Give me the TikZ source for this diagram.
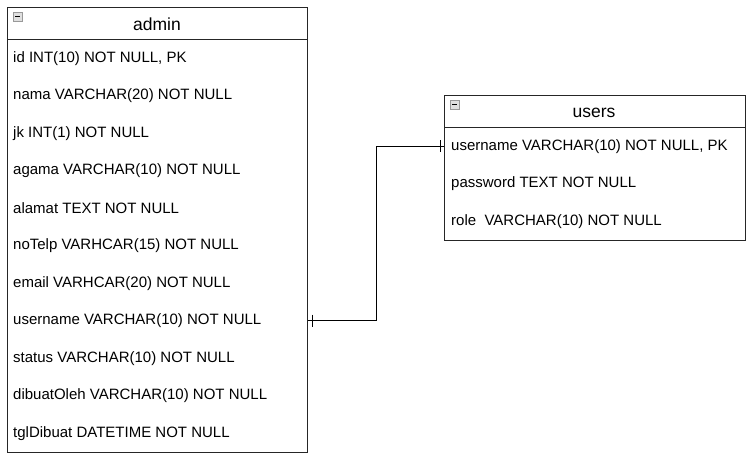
\documentclass[tikz,border=0pt]{standalone}
\usepackage{fontspec}
\setmainfont{Liberation Sans}
\usetikzlibrary{calc}

\tikzset{
  entity/.style={draw=black!85, line width=1.2pt, inner sep=0pt, anchor=north west},
  field/.style={anchor=west, inner sep=0pt, font=\fontsize{15}{18}\selectfont},
  title/.style={inner sep=0pt, font=\fontsize{17.5}{20}\selectfont},
  relation/.style={draw=black, line width=1pt},
  foldbox/.style={draw=gray!80, fill=gray!25, line width=0.6pt}
}

\newcommand{\foldicon}[1]{%
  \draw[foldbox] ($(#1)+(6,5)$) rectangle ++(9,9);
  \draw[line width=0.9pt] ($(#1)+(8,9.5)$) -- ++(5,0);
}

\begin{document}
\begin{tikzpicture}[x=1pt,y=-1pt]
  \useasboundingbox (0,0) rectangle (753,457);

  % admin table
  \node [entity, minimum width=300pt, minimum height=445pt] (admin) at (7,7) {};
  \draw [entity] (7,39.5) -- (307,39.5);
  \node [title] (admin-title) at (157,24.5) {admin};
  \foldicon{admin.north west}
  \foreach \f [count=\i] in {{id INT(10) NOT NULL, PK}, nama VARCHAR(20) NOT NULL,
      jk INT(1) NOT NULL, agama VARCHAR(10) NOT NULL, alamat TEXT NOT NULL,
      noTelp VARHCAR(15) NOT NULL, email VARHCAR(20) NOT NULL,
      username VARCHAR(10) NOT NULL, status VARCHAR(10) NOT NULL,
      dibuatOleh VARCHAR(10) NOT NULL, tglDibuat DATETIME NOT NULL}
    \node [field] (admin-\i) at (13,{39.5+37.5*(\i-0.5)}) {\f};

  % users table
  \node [entity, minimum width=301pt, minimum height=145pt] (users) at (444,95) {};
  \draw [entity] (444,127.5) -- (745,127.5);
  \node [title] (users-title) at (594,112.5) {users};
  \foldicon{users.north west}
  \node [field] (users-1) at (451,146.5) {username VARCHAR(10) NOT NULL, PK};
  \node [field] (users-2) at (451,184) {password TEXT NOT NULL};
  \node [field] (users-3) at (451,221.5) {role\ \ VARCHAR(10) NOT NULL};

  % relation admin.username -- users.username
  \coordinate (rel-a) at (admin.east|-admin-8);
  \coordinate (rel-u) at (users.west|-users-1);
  \draw [relation] (rel-a) -- ++(68,0) |- (rel-u);
  \draw [relation] ($(rel-a)+(4,-6)$) -- ++(0,12);
  \draw [relation] ($(rel-u)+(-4,-6)$) -- ++(0,12);
\end{tikzpicture}
\end{document}
